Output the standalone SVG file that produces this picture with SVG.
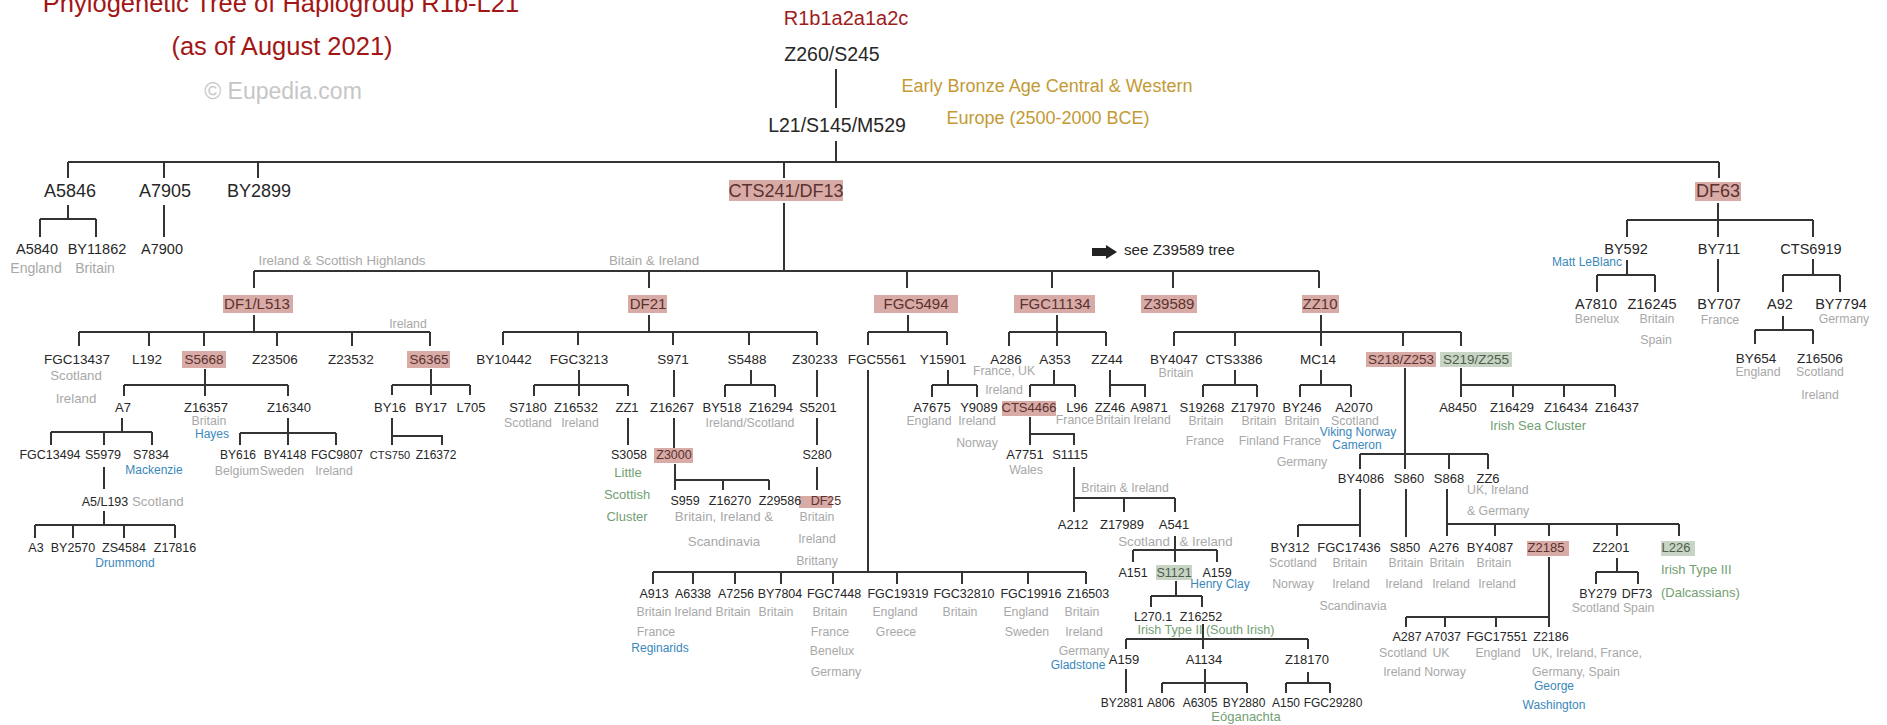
<svg xmlns="http://www.w3.org/2000/svg" width="1887" height="725" viewBox="0 0 1887 725">
<style>
text{font-family:"Liberation Sans",Arial,sans-serif;text-anchor:middle;fill:#272727}
.l{text-anchor:start}
.title{fill:#a31616;font-size:25.5px}
.copy{fill:#c6c6c6;font-size:23px}
.hap{fill:#a01c1c;font-size:20px}
.era{fill:#c39a34;font-size:18px}
.note{font-size:15.2px}
.t0{font-size:19.5px}
.t1{font-size:18px}
.t2{font-size:14.5px}
.t3{font-size:13.5px}
.t4{font-size:13px}
.t5{font-size:12.5px}
.t6{font-size:12px}
.bx{font-size:15px}
.g{fill:#a8a8a8;font-size:12.3px}
.gl{fill:#a8a8a8;font-size:13.3px}
.gt{fill:#a8a8a8;font-size:14px}
.bl{fill:#3a87bb;font-size:12px}
.gn{fill:#72a072;font-size:13px}
.hr{fill:#d8aba6}
.hg{fill:#c8d5c5}
text.hrt{fill:#5a3230}
text.hgt{fill:#4d5c4d}
.c path{fill:none;stroke:#333;stroke-width:2}
</style>

<!-- heading -->
<g id="heading">
<text class="title" x="281" y="12">Phylogenetic Tree of Haplogroup R1b-L21</text>
<text class="title" x="282" y="55">(as of August 2021)</text>
<text class="copy" x="283" y="99">© Eupedia.com</text>
</g>

<!-- connectors -->
<g class="c" id="connectors">
<path d="M836 69V108M836 141V162"/>
<path d="M68 162H1719M68 162V178M164 162V178M258 162V178M784 162V178M1719 162V178"/>
<path d="M68 205V219M40 219H96M40 219V237M96 219V237"/>
<path d="M164 205V237"/>
<path d="M1718 203V220M1627 220H1813M1627 220V237M1718 220V237M1813 220V237"/>
<path d="M1627 260V275M1597 275H1655M1597 275V292M1655 275V292"/>
<path d="M1718 259V292"/>
<path d="M1813 259V275M1783 275H1840M1783 275V292M1840 275V292"/>
<path d="M1783 316V330M1755 330H1813M1755 330V344M1813 330V344"/>
<path d="M784 203V271M254 271H1319M254 271V288M649 271V288M907 271V288M1052 271V288M1173 271V288M1319 271V288"/>
<path d="M254 315V332M79 332H430M79 332V346M149 332V346M204 332V346M277 332V346M352 332V346M430 332V346"/>
<path d="M205 369V385M124 385H288M124 385V396M205 385V396M288 385V396"/>
<path d="M122 418V432M51 432H152M51 432V445M104 432V445M152 432V445"/>
<path d="M288 418V433M240 433H336M240 433V445M288 433V445M336 433V445"/>
<path d="M431 369V385M392 385H470M392 385V395M431 385V395M470 385V395"/>
<path d="M392 418V445M392 436H442V445"/>
<path d="M104 467V489"/>
<path d="M104 511V525M35 525H175M35 525V538M73 525V538M124 525V538M175 525V538"/>
<path d="M649 315V332M503 332H817M503 332V345M578 332V345M673 332V345M749 332V345M817 332V345"/>
<path d="M579 370V385M534 385H628M534 385V396M579 385V396M628 385V396"/>
<path d="M674 370V397"/>
<path d="M751 370V385M725 385H775M725 385V397M775 385V397"/>
<path d="M817 370V397"/>
<path d="M628 418V445"/>
<path d="M674 418V448"/>
<path d="M817 418V445"/>
<path d="M675 464V490M675 480H769M723 480V490M769 480V490"/>
<path d="M817 467V490"/>
<path d="M908 315V332M868 332H947M868 332V345M947 332V345"/>
<path d="M948 370V385M932 385H977M932 385V397M977 385V397"/>
<path d="M868 370V572M653 572H1086M653 572V584M693 572V584M735 572V584M781 572V584M833 572V584M897 572V584M962 572V584M1028 572V584M1086 572V584"/>
<path d="M1057 315V332M1009 332H1106M1009 332V346M1057 332V346M1106 332V346"/>
<path d="M1054 370V385M1030 385H1075M1030 385V397M1075 385V397"/>
<path d="M1110 370V397M1110 385H1145V397"/>
<path d="M1030 417V445M1030 434H1074V445"/>
<path d="M1074 467V512M1074 498H1175M1124 498V512M1175 498V512"/>
<path d="M1175 536V562M1133 550H1217M1133 550V562M1217 550V562"/>
<path d="M1176 581V596M1151 596H1202M1151 596V607M1202 596V607"/>
<path d="M1203 624V649M1126 639H1308M1126 639V649M1308 639V649"/>
<path d="M1126 669V693"/>
<path d="M1205 669V693M1162 683H1247M1162 683V693M1247 683V693"/>
<path d="M1308 672V683M1286 683H1330M1286 683V693M1330 683V693"/>
<path d="M1321 315V332M1174 332H1461M1174 332V346M1235 332V346M1321 332V346M1403 332V346M1461 332V346"/>
<path d="M1235 370V385M1203 385H1257M1203 385V397M1257 385V397"/>
<path d="M1321 370V385M1300 385H1351M1300 385V397M1351 385V397"/>
<path d="M1405 368V469M1360 454H1488M1360 454V469M1449 454V469M1488 454V469"/>
<path d="M1461 368V397M1461 385H1615M1513 385V397M1564 385V397M1615 385V397"/>
<path d="M1360 489V537M1298 525H1360M1298 525V537"/>
<path d="M1406 489V537"/>
<path d="M1447 489V536M1447 524H1679M1495 524V536M1549 524V536M1617 524V536M1679 524V536"/>
<path d="M1617 558V572M1596 572H1638M1596 572V584M1638 572V584"/>
<path d="M1549 557V627M1406 617H1549M1406 617V627M1445 617V627M1496 617V627"/>
</g>

<!-- root -->
<g id="n-Z260"><text class="hap" x="846" y="25">R1b1a2a1a2c</text><text class="t0" x="832" y="61">Z260/S245</text></g>
<g id="n-L21"><text class="t0" x="837" y="132">L21/S145/M529</text>
<text class="era" x="1047" y="92">Early Bronze Age Central &amp; Western</text>
<text class="era" x="1048" y="124">Europe (2500-2000 BCE)</text></g>

<!-- first branching -->
<g id="n-A5846"><text class="t1" x="70" y="197">A5846</text></g>
<g id="n-A7905"><text class="t1" x="165" y="197">A7905</text></g>
<g id="n-BY2899"><text class="t1" x="259" y="197">BY2899</text></g>
<g id="n-CTS241"><rect class="hr" x="729" y="180" width="114" height="21"/><text class="t1 hrt" x="786" y="197">CTS241/DF13</text></g>
<g id="n-DF63"><rect class="hr" x="1695" y="182" width="46" height="19"/><text class="t1 hrt" x="1718" y="197">DF63</text></g>

<g id="n-A5840"><text class="t2" x="37" y="254">A5840</text><text class="gt" x="36" y="273">England</text></g>
<g id="n-BY11862"><text class="t2" x="97" y="254">BY11862</text><text class="gt" x="95" y="273">Britain</text></g>
<g id="n-A7900"><text class="t2" x="162" y="254">A7900</text></g>

<!-- DF63 branch -->
<g id="n-BY592"><text class="t2" x="1626" y="254">BY592</text><text class="bl" x="1587" y="266">Matt LeBlanc</text></g>
<g id="n-BY711"><text class="t2" x="1719" y="254">BY711</text></g>
<g id="n-CTS6919"><text class="t2" x="1811" y="254">CTS6919</text></g>
<g id="n-A7810"><text class="t2" x="1596" y="309">A7810</text><text class="g" x="1597" y="323">Benelux</text></g>
<g id="n-Z16245"><text class="t2" x="1652" y="309">Z16245</text><text class="g" x="1657" y="323">Britain</text><text class="g" x="1656" y="344">Spain</text></g>
<g id="n-BY707"><text class="t2" x="1719" y="309">BY707</text><text class="g" x="1720" y="324">France</text></g>
<g id="n-A92"><text class="t2" x="1780" y="309">A92</text></g>
<g id="n-BY7794"><text class="t2" x="1841" y="309">BY7794</text><text class="g" x="1844" y="323">Germany</text></g>
<g id="n-BY654"><text class="t3" x="1756" y="363">BY654</text><text class="g" x="1758" y="376">England</text></g>
<g id="n-Z16506"><text class="t3" x="1820" y="363">Z16506</text><text class="g" x="1820" y="376">Scotland</text><text class="g" x="1820" y="399">Ireland</text></g>

<!-- CTS241 branch labels -->
<g id="lbl-cts241"><text class="gl" x="342" y="265">Ireland &amp; Scottish Highlands</text><text class="gl" x="654" y="265">Bitain &amp; Ireland</text></g>
<g id="note-z39589"><polygon points="1092,248 1106,248 1106,245 1117,252 1106,259 1106,256 1092,256" fill="#222"/><text class="note l" x="1124" y="255">see Z39589 tree</text></g>

<g id="n-DF1"><rect class="hr" x="223" y="295" width="70" height="18"/><text class="bx hrt" x="257" y="309">DF1/L513</text></g>
<g id="n-DF21"><rect class="hr" x="628" y="295" width="39" height="18"/><text class="bx hrt" x="648" y="309">DF21</text></g>
<g id="n-FGC5494"><rect class="hr" x="874" y="295" width="84" height="18"/><text class="bx hrt" x="916" y="309">FGC5494</text></g>
<g id="n-FGC11134"><rect class="hr" x="1014" y="295" width="81" height="18"/><text class="bx hrt" x="1055" y="309">FGC11134</text></g>
<g id="n-Z39589"><rect class="hr" x="1141" y="295" width="56" height="18"/><text class="bx hrt" x="1169" y="309">Z39589</text></g>
<g id="n-ZZ10"><rect class="hr" x="1302" y="295" width="37" height="18"/><text class="bx hrt" x="1320" y="309">ZZ10</text></g>

<!-- DF1/L513 -->
<g id="lbl-df1"><text class="g" x="408" y="328">Ireland</text></g>
<g id="n-FGC13437"><text class="t3" x="77" y="364">FGC13437</text><text class="gl" x="76" y="380">Scotland</text><text class="gl" x="76" y="403">Ireland</text></g>
<g id="n-L192"><text class="t3" x="147" y="364">L192</text></g>
<g id="n-S5668"><rect class="hr" x="182" y="351" width="44" height="17"/><text class="t3 hrt" x="204" y="364">S5668</text></g>
<g id="n-Z23506"><text class="t3" x="275" y="364">Z23506</text></g>
<g id="n-Z23532"><text class="t3" x="351" y="364">Z23532</text></g>
<g id="n-S6365"><rect class="hr" x="407" y="351" width="43" height="17"/><text class="t3 hrt" x="429" y="364">S6365</text></g>
<g id="n-A7"><text class="t4" x="123" y="412">A7</text></g>
<g id="n-Z16357"><text class="t4" x="206" y="412">Z16357</text><text class="g" x="209" y="425">Britain</text><text class="bl" x="212" y="438">Hayes</text></g>
<g id="n-Z16340"><text class="t4" x="289" y="412">Z16340</text></g>
<g id="n-BY16"><text class="t4" x="390" y="412">BY16</text></g>
<g id="n-BY17"><text class="t4" x="431" y="412">BY17</text></g>
<g id="n-L705"><text class="t4" x="471" y="412">L705</text></g>
<g id="n-FGC13494"><text class="t5" x="50" y="459">FGC13494</text></g>
<g id="n-S5979"><text class="t5" x="103" y="459">S5979</text></g>
<g id="n-S7834"><text class="t5" x="151" y="459">S7834</text><text class="bl" x="154" y="474">Mackenzie</text></g>
<g id="n-BY616"><text class="t6" x="238" y="459">BY616</text><text class="g" x="237" y="475">Belgium</text></g>
<g id="n-BY4148"><text class="t6" x="285" y="459">BY4148</text><text class="g" x="282" y="475">Sweden</text></g>
<g id="n-FGC9807"><text class="t6" x="337" y="459">FGC9807</text><text class="g" x="334" y="475">Ireland</text></g>
<g id="n-CTS750"><text class="t5" x="390" y="459" style="font-size:11px">CTS750</text></g>
<g id="n-Z16372"><text class="t6" x="436" y="459">Z16372</text></g>
<g id="n-A5"><text class="t5" x="105" y="506">A5/L193</text><text class="gl l" x="132" y="506">Scotland</text></g>
<g id="n-A3"><text class="t5" x="36" y="552">A3</text></g>
<g id="n-BY2570"><text class="t5" x="73" y="552">BY2570</text></g>
<g id="n-ZS4584"><text class="t5" x="124" y="552">ZS4584</text><text class="bl" x="125" y="567">Drummond</text></g>
<g id="n-Z17816"><text class="t5" x="175" y="552">Z17816</text></g>

<!-- DF21 -->
<g id="n-BY10442"><text class="t3" x="504" y="364">BY10442</text></g>
<g id="n-FGC3213"><text class="t3" x="579" y="364">FGC3213</text></g>
<g id="n-S971"><text class="t3" x="673" y="364">S971</text></g>
<g id="n-S5488"><text class="t3" x="747" y="364">S5488</text></g>
<g id="n-Z30233"><text class="t3" x="815" y="364">Z30233</text></g>
<g id="n-S7180"><text class="t4" x="528" y="412">S7180</text><text class="g" x="528" y="427">Scotland</text></g>
<g id="n-Z16532"><text class="t4" x="576" y="412">Z16532</text><text class="g" x="580" y="427">Ireland</text></g>
<g id="n-ZZ1"><text class="t4" x="627" y="412">ZZ1</text></g>
<g id="n-Z16267"><text class="t4" x="672" y="412">Z16267</text></g>
<g id="n-BY518"><text class="t4" x="722" y="412">BY518</text></g>
<g id="n-Z16294"><text class="t4" x="771" y="412">Z16294</text><text class="g" x="750" y="427">Ireland/Scotland</text></g>
<g id="n-S5201"><text class="t4" x="818" y="412">S5201</text></g>
<g id="n-S3058"><text class="t5" x="629" y="459">S3058</text><text class="gn" x="628" y="477">Little</text><text class="gn" x="627" y="499">Scottish</text><text class="gn" x="627" y="521">Cluster</text></g>
<g id="n-Z3000"><rect class="hr" x="654" y="448" width="39" height="15"/><text class="t5 hrt" x="674" y="459">Z3000</text></g>
<g id="n-S280"><text class="t5" x="817" y="459">S280</text></g>
<g id="n-S959"><text class="t5" x="685" y="505">S959</text></g>
<g id="n-Z16270"><text class="t5" x="730" y="505">Z16270</text><text class="gl" x="724" y="521">Britain, Ireland &amp;</text><text class="gl" x="724" y="546">Scandinavia</text></g>
<g id="n-Z29586"><rect class="hr" x="799" y="496" width="33" height="12"/><text class="t5" x="780" y="505">Z29586</text></g>
<g id="n-DF25"><text class="t5 hrt" x="826" y="505">DF25</text><text class="g" x="817" y="521">Britain</text><text class="g" x="817" y="543">Ireland</text><text class="g" x="817" y="565">Brittany</text></g>

<!-- FGC5494 -->
<g id="n-FGC5561"><text class="t3" x="877" y="364">FGC5561</text></g>
<g id="n-Y15901"><text class="t3" x="943" y="364">Y15901</text></g>
<g id="n-A7675"><text class="t4" x="932" y="412">A7675</text><text class="g" x="929" y="425">England</text></g>
<g id="n-Y9089"><text class="t4" x="979" y="412">Y9089</text><text class="g" x="977" y="425">Ireland</text><text class="g" x="977" y="447">Norway</text></g>
<g id="n-A913"><text class="t5" x="654" y="598">A913</text><text class="g" x="654" y="616">Britain</text><text class="g" x="656" y="636">France</text><text class="bl" x="660" y="652">Reginarids</text></g>
<g id="n-A6338"><text class="t5" x="693" y="598">A6338</text><text class="g" x="693" y="616">Ireland</text></g>
<g id="n-A7256"><text class="t5" x="736" y="598">A7256</text><text class="g" x="733" y="616">Britain</text></g>
<g id="n-BY7804"><text class="t5" x="780" y="598">BY7804</text><text class="g" x="776" y="616">Britain</text></g>
<g id="n-FGC7448"><text class="t5" x="834" y="598">FGC7448</text><text class="g" x="830" y="616">Britain</text><text class="g" x="830" y="636">France</text><text class="g" x="832" y="655">Benelux</text><text class="g" x="836" y="676">Germany</text></g>
<g id="n-FGC19319"><text class="t5" x="898" y="598">FGC19319</text><text class="g" x="895" y="616">England</text><text class="g" x="896" y="636">Greece</text></g>
<g id="n-FGC32810"><text class="t5" x="964" y="598">FGC32810</text><text class="g" x="960" y="616">Britain</text></g>
<g id="n-FGC19916"><text class="t5" x="1031" y="598">FGC19916</text><text class="g" x="1026" y="616">England</text><text class="g" x="1027" y="636">Sweden</text></g>
<g id="n-Z16503"><text class="t5" x="1088" y="598">Z16503</text><text class="g" x="1082" y="616">Britain</text><text class="g" x="1084" y="636">Ireland</text><text class="g" x="1084" y="655">Germany</text><text class="bl" x="1078" y="669">Gladstone</text></g>

<!-- FGC11134 -->
<g id="n-A286"><text class="t3" x="1006" y="364">A286</text><text class="g" x="1004" y="375">France, UK</text><text class="g" x="1004" y="394">Ireland</text></g>
<g id="n-A353"><text class="t3" x="1055" y="364">A353</text></g>
<g id="n-ZZ44"><text class="t3" x="1107" y="364">ZZ44</text></g>
<g id="n-CTS4466"><rect class="hr" x="1002" y="401" width="54" height="15"/><text class="t4 hrt" x="1029" y="412">CTS4466</text></g>
<g id="n-L96"><text class="t4" x="1077" y="412">L96</text><text class="g" x="1075" y="424">France</text></g>
<g id="n-ZZ46"><text class="t4" x="1110" y="412">ZZ46</text><text class="g" x="1113" y="424">Britain</text></g>
<g id="n-A9871"><text class="t4" x="1149" y="412">A9871</text><text class="g" x="1152" y="424">Ireland</text></g>
<g id="n-A7751"><text class="t4" x="1025" y="459">A7751</text><text class="g" x="1026" y="474">Wales</text></g>
<g id="n-S1115"><text class="t4" x="1070" y="459">S1115</text><text class="g" x="1125" y="492">Britain &amp; Ireland</text></g>
<g id="n-A212"><text class="t4" x="1073" y="529">A212</text></g>
<g id="n-Z17989"><text class="t4" x="1122" y="529">Z17989</text></g>
<g id="n-A541"><text class="t4" x="1174" y="529">A541</text><text class="gl" x="1144" y="546">Scotland</text><text class="gl" x="1206" y="546">&amp; Ireland</text></g>
<g id="n-A151"><text class="t5" x="1133" y="577">A151</text></g>
<g id="n-S1121"><rect class="hg" x="1156" y="565" width="36" height="15"/><text class="t5 hgt" x="1174" y="577">S1121</text></g>
<g id="n-A159-a"><text class="t5" x="1217" y="577">A159</text><text class="bl" x="1220" y="588">Henry Clay</text></g>
<g id="n-L270"><text class="t5" x="1153" y="621">L270.1</text></g>
<g id="n-Z16252"><text class="t5" x="1201" y="621">Z16252</text><text class="gn" x="1206" y="634" style="font-size:12.6px">Irish Type II (South Irish)</text></g>
<g id="n-A159-b"><text class="t4" x="1124" y="664">A159</text></g>
<g id="n-A1134"><text class="t4" x="1204" y="664">A1134</text></g>
<g id="n-Z18170"><text class="t4" x="1307" y="664">Z18170</text></g>
<g id="n-BY2881"><text class="t6" x="1122" y="707">BY2881</text></g>
<g id="n-A806"><text class="t6" x="1161" y="707">A806</text></g>
<g id="n-A6305"><text class="t6" x="1200" y="707">A6305</text><text class="gn" x="1246" y="721">Eóganachta</text></g>
<g id="n-BY2880"><text class="t6" x="1244" y="707">BY2880</text></g>
<g id="n-A150"><text class="t6" x="1286" y="707">A150</text></g>
<g id="n-FGC29280"><text class="t6" x="1333" y="707">FGC29280</text></g>

<!-- ZZ10 -->
<g id="n-BY4047"><text class="t3" x="1174" y="364">BY4047</text><text class="g" x="1176" y="377">Britain</text></g>
<g id="n-CTS3386"><text class="t3" x="1234" y="364">CTS3386</text></g>
<g id="n-MC14"><text class="t3" x="1318" y="364">MC14</text></g>
<g id="n-S218"><rect class="hr" x="1366" y="352" width="70" height="15"/><text class="t3 hrt" x="1401" y="364">S218/Z253</text></g>
<g id="n-S219"><rect class="hg" x="1440" y="352" width="72" height="15"/><text class="t3 hgt" x="1476" y="364">S219/Z255</text></g>
<g id="n-S19268"><text class="t4" x="1202" y="412">S19268</text><text class="g" x="1206" y="425">Britain</text><text class="g" x="1205" y="445">France</text></g>
<g id="n-Z17970"><text class="t4" x="1253" y="412">Z17970</text><text class="g" x="1259" y="425">Britain</text><text class="g" x="1259" y="445">Finland</text></g>
<g id="n-BY246"><text class="t4" x="1302" y="412">BY246</text><text class="g" x="1302" y="425">Britain</text><text class="g" x="1302" y="445">France</text><text class="g" x="1302" y="466">Germany</text></g>
<g id="n-A2070"><text class="t4" x="1354" y="412">A2070</text><text class="g" x="1355" y="425">Scotland</text><text class="bl" x="1358" y="436">Viking Norway</text><text class="bl" x="1357" y="449">Cameron</text></g>
<g id="n-A8450"><text class="t4" x="1458" y="412">A8450</text></g>
<g id="n-Z16429"><text class="t4" x="1512" y="412">Z16429</text><text class="gn" x="1538" y="430">Irish Sea Cluster</text></g>
<g id="n-Z16434"><text class="t4" x="1566" y="412">Z16434</text></g>
<g id="n-Z16437"><text class="t4" x="1617" y="412">Z16437</text></g>
<g id="n-BY4086"><text class="t4" x="1361" y="483">BY4086</text></g>
<g id="n-S860"><text class="t4" x="1409" y="483">S860</text></g>
<g id="n-S868"><text class="t4" x="1449" y="483">S868</text></g>
<g id="n-ZZ6"><text class="t4" x="1488" y="483">ZZ6</text><text class="g l" x="1467" y="494">UK, Ireland</text><text class="g l" x="1467" y="515">&amp; Germany</text></g>
<g id="n-BY312"><text class="t4" x="1290" y="552">BY312</text><text class="g" x="1293" y="567">Scotland</text><text class="g" x="1293" y="588">Norway</text></g>
<g id="n-FGC17436"><text class="t4" x="1349" y="552">FGC17436</text><text class="g" x="1350" y="567">Britain</text><text class="g" x="1351" y="588">Ireland</text><text class="g" x="1353" y="610">Scandinavia</text></g>
<g id="n-S850"><text class="t4" x="1405" y="552">S850</text><text class="g" x="1406" y="567">Britain</text><text class="g" x="1404" y="588">Ireland</text></g>
<g id="n-A276"><text class="t4" x="1444" y="552">A276</text><text class="g" x="1447" y="567">Britain</text><text class="g" x="1451" y="588">Ireland</text></g>
<g id="n-BY4087"><text class="t4" x="1490" y="552">BY4087</text><text class="g" x="1494" y="567">Britain</text><text class="g" x="1497" y="588">Ireland</text></g>
<g id="n-Z2185"><rect class="hr" x="1527" y="541" width="42" height="15"/><text class="t4 hrt" x="1546" y="552">Z2185</text></g>
<g id="n-Z2201"><text class="t4" x="1611" y="552">Z2201</text></g>
<g id="n-L226"><rect class="hg" x="1661" y="541" width="34" height="15"/><text class="t4 hgt" x="1676" y="552">L226</text><text class="gn l" x="1661" y="574">Irish Type III</text><text class="gn l" x="1661" y="597">(Dalcassians)</text></g>
<g id="n-BY279"><text class="t5" x="1598" y="598">BY279</text></g>
<g id="n-DF73"><text class="t5" x="1637" y="598">DF73</text><text class="g" x="1613" y="612">Scotland Spain</text></g>
<g id="n-A287"><text class="t5" x="1407" y="641">A287</text><text class="g" x="1403" y="657">Scotland</text><text class="g" x="1402" y="676">Ireland</text></g>
<g id="n-A7037"><text class="t5" x="1443" y="641">A7037</text><text class="g" x="1441" y="657">UK</text><text class="g" x="1445" y="676">Norway</text></g>
<g id="n-FGC17551"><text class="t5" x="1497" y="641">FGC17551</text><text class="g" x="1498" y="657">England</text></g>
<g id="n-Z2186"><text class="t5" x="1551" y="641">Z2186</text><text class="g l" x="1532" y="657">UK, Ireland, France,</text><text class="g l" x="1532" y="676">Germany, Spain</text><text class="bl" x="1554" y="690">George</text><text class="bl" x="1554" y="709">Washington</text></g>
</svg>
